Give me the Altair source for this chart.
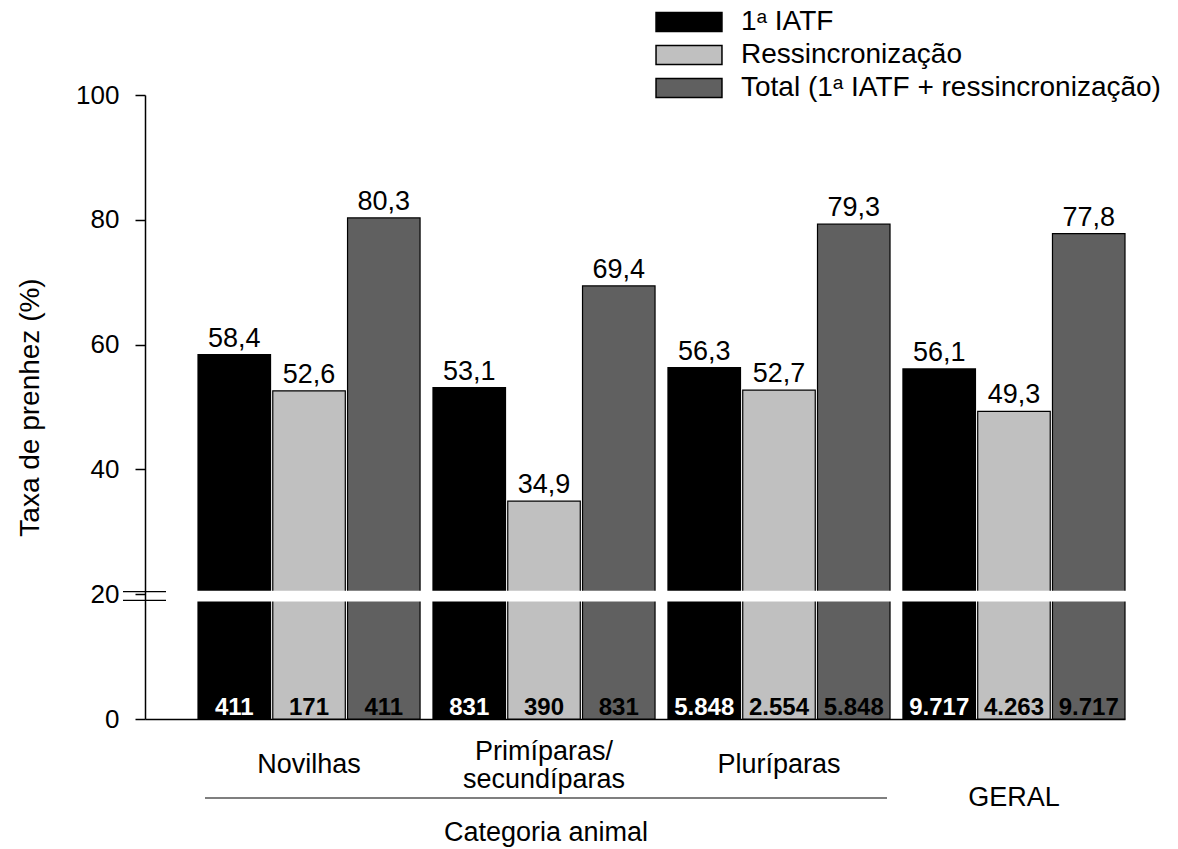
import altair as alt
import pandas as pd

# ---- data ----
categorias = ["Novilhas", "Primíparas/secundíparas", "Pluríparas", "GERAL"]
rotulos_simples = ["Novilhas", "Pluríparas"]
rotulo_duplo = ["Primíparas/\nsecundíparas"]
series = ["1ᵃ IATF", "Ressincronização", "Total (1ᵃ IATF + ressincronização)"]
taxa_1iatf = [58.4, 53.1, 56.3, 56.1]
taxa_ressinc = [52.6, 34.9, 52.7, 49.3]
taxa_total = [80.3, 69.4, 79.3, 77.8]
n_1iatf = [411, 831, 5848, 9717]
n_ressinc = [171, 390, 2554, 4263]
n_total = [411, 831, 5848, 9717]
y_ticks = [0, 20, 40, 60, 80, 100]
quebra = [19.0, 20.4]          # axis-break band (value units)
cores = ["#000000", "#c0c0c0", "#606060"]

FONT = "Liberation Sans"

rows = []
for s, vals, ns in zip(series, [taxa_1iatf, taxa_ressinc, taxa_total], [n_1iatf, n_ressinc, n_total]):
    for c, v, n in zip(categorias, vals, ns):
        rows.append({"categoria": c, "serie": s, "valor": v, "n": n})
df = pd.DataFrame(rows)

df_simples = pd.DataFrame({"categoria": [categorias[0], categorias[2]], "rotulo": rotulos_simples})
df_duplo = pd.DataFrame({"categoria": [categorias[1]], "rotulo": rotulo_duplo})
df_geral = pd.DataFrame({"categoria": [categorias[3]], "rotulo": [categorias[3]]})
df_break = pd.DataFrame({"categoria": categorias})

W, H = 980, 624

xenc = alt.X(
    "categoria:N",
    sort=categorias,
    scale=alt.Scale(domain=categorias, paddingInner=0.055, paddingOuter=0.1128, align=1),
    axis=alt.Axis(labels=False, ticks=False, title=None, domainColor="black", domainWidth=1.5),
)
xoff = alt.XOffset("serie:N", sort=series, scale=alt.Scale(domain=series, paddingInner=0.03))
yscale = alt.Scale(domain=[0, 100], nice=False, zero=True)

bars = alt.Chart(df).mark_bar(stroke="black", strokeWidth=1.2).encode(
    x=xenc,
    xOffset=xoff,
    y=alt.Y(
        "valor:Q",
        scale=yscale,
        axis=alt.Axis(
            values=y_ticks, grid=False, tickSize=10, tickColor="black", tickWidth=1.5,
            domainColor="black", domainWidth=1.5, labelFontSize=26, labelFont=FONT,
            labelColor="black", labelPadding=16, title="Taxa de prenhez (%)",
            titleFontSize=28, titleFont=FONT, titleFontWeight="normal", titleColor="black",
            titlePadding=31,
        ),
    ),
    color=alt.Color(
        "serie:N",
        sort=series,
        scale=alt.Scale(domain=series, range=cores),
        legend=alt.Legend(
            orient="none", legendX=530, legendY=-87, title=None, padding=0,
            symbolType="M-3.47,-1H3.47V1H-3.47Z", symbolSize=361,
            symbolStrokeColor="black", symbolStrokeWidth=1.5, symbolOpacity=1,
            labelFontSize=28, labelFont=FONT, labelColor="black", labelOffset=38,
            labelLimit=700, rowPadding=5,
        ),
    ),
)

valores = alt.Chart(df).transform_calculate(
    lab="replace(format(datum.valor, '.1f'), '.', ',')"
).mark_text(dy=-8, baseline="alphabetic", fontSize=27, font=FONT, color="black").encode(
    x=xenc, xOffset=xoff, y=alt.Y("valor:Q", scale=yscale), text="lab:N"
)

contagens = alt.Chart(df).transform_calculate(
    lab="replace(format(datum.n, ','), ',', '.')"
).mark_text(dy=-4, baseline="alphabetic", fontSize=24, font=FONT, fontWeight="bold").encode(
    x=xenc, xOffset=xoff, y=alt.datum(0, scale=yscale), text="lab:N",
    color=alt.condition(alt.datum.serie == series[0], alt.value("white"), alt.value("black")),
)

faixa = alt.Chart(df_break).mark_rect(color="white", stroke="white", strokeWidth=2).encode(
    x=xenc, y=alt.datum(quebra[0], scale=yscale), y2=alt.datum(quebra[1])
)

marcas_quebra = alt.Chart(pd.DataFrame({"q": quebra})).mark_rule(color="black", strokeWidth=1.2).encode(
    x=alt.value(-22), x2=alt.value(21), y=alt.Y("q:Q", scale=yscale)
)

rot_simples = alt.Chart(df_simples).mark_text(
    fontSize=27, font=FONT, color="black", baseline="middle"
).encode(x=xenc, y=alt.value(670), text="rotulo:N")

rot_duplo = alt.Chart(df_duplo).mark_text(
    fontSize=27, font=FONT, color="black", baseline="middle", lineBreak="\n", lineHeight=28
).encode(x=xenc, y=alt.value(657), text="rotulo:N")

rot_geral = alt.Chart(df_geral).mark_text(
    fontSize=27, font=FONT, color="black", baseline="middle"
).encode(x=xenc, y=alt.value(703), text="rotulo:N")

linha = alt.Chart(pd.DataFrame({"a": [0]})).mark_rule(color="black", strokeWidth=1.2).encode(
    x=alt.value(60), x2=alt.value(742), y=alt.value(703)
)

titulo_x = alt.Chart(pd.DataFrame({"t": ["Categoria animal"]})).mark_text(
    fontSize=27, font=FONT, color="black", baseline="middle"
).encode(x=alt.value(401), y=alt.value(738), text="t:N")

chart = alt.layer(
    bars, faixa, marcas_quebra, valores, contagens, rot_simples, rot_duplo, rot_geral, linha, titulo_x
).properties(
    width=W, height=H,
    background="white",
    autosize=alt.AutoSizeParams(type="none"),
    padding={"left": 145, "top": 95, "right": 53, "bottom": 130},
).configure_view(stroke="transparent", strokeWidth=0)

chart.save("out.html", embed_options={"renderer": "svg", "actions": False})
